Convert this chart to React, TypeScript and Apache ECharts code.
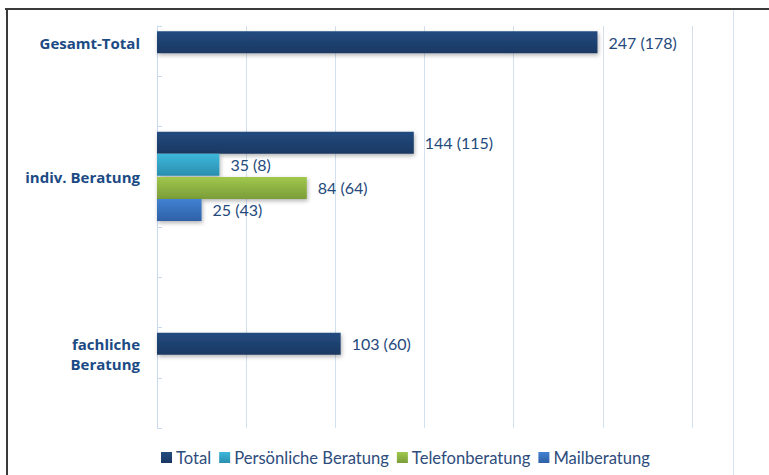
import React, { useEffect, useRef } from "react";
import * as echarts from "echarts";

// ---- data ----
// 8 category bands on the visible axis (top to bottom)
const bandCategories = ["b0", "b1", "b2", "b3", "b4", "b5", "b6", "b7"];
// label axis (12 finer rows) — tick labels
const groupLabels = ["Gesamt-Total", "", "", "", "indiv. Beratung", "", "", "", "", "fachliche\nBeratung", "", ""];

const seriesNames = ["Total", "Persönliche Beratung", "Telefonberatung", "Mailberatung"];
// values per band (null = no bar)
const totalValues = [247, null, 144, null, null, null, 103, null];
const totalPrev = [178, null, 115, null, null, null, 60, null];
const persoenlichValues = [null, null, 35, null, null, null, null, null];
const persoenlichPrev = [null, null, 8, null, null, null, null, null];
const telefonValues = [null, null, null, 84, null, null, null, null];
const telefonPrev = [null, null, null, 64, null, null, null, null];
const mailValues = [null, null, null, 25, null, null, null, null];
const mailPrev = [null, null, null, 43, null, null, null, null];

const xMin = 0;
const xMax = 300;
const xInterval = 50;

const grad = (top: string, bottom: string) =>
  new echarts.graphic.LinearGradient(0, 0, 0, 1, [
    { offset: 0, color: top },
    { offset: 1, color: bottom },
  ]);

export default function App() {
  const ref = useRef<HTMLDivElement>(null);

  useEffect(() => {
    if (!ref.current) return;
    const chart = echarts.init(ref.current, undefined, { renderer: "svg" });
    const font = "Lato";
    const labelColor = "#244A7C";

    const mkLabel = (prev: (number | null)[]) => ({
      show: true,
      position: "right" as const,
      distance: 11,
      color: labelColor,
      fontFamily: font,
      fontSize: 16,
      formatter: (p: any) => (p.value == null ? "" : `${p.value} (${prev[p.dataIndex]})`),
    });

    const barCommon = {
      type: "bar" as const,
      barWidth: 22,
      barGap: "0%",
      itemStyle: {
        shadowBlur: 4,
        shadowOffsetY: 2,
        shadowOffsetX: 1,
        shadowColor: "rgba(0,0,0,0.3)",
      },
    };

    const grid0 = { left: 157, right: 77, top: 26, bottom: 47 };
    const grid1 = { left: 157, right: 77, top: 28, bottom: 45 };
    const grid2 = { left: 157, right: 77, top: 23, bottom: 50 };

    const hiddenX = (gi: number) => ({
      gridIndex: gi,
      type: "value",
      min: xMin,
      max: xMax,
      interval: xInterval,
      show: false,
    });
    const hiddenY = (gi: number) => ({
      gridIndex: gi,
      type: "category",
      inverse: true,
      data: bandCategories,
      show: false,
    });

    chart.setOption({
      animation: false,
      backgroundColor: "#ffffff",
      grid: [grid0, grid1, grid2],
      legend: {
        data: seriesNames,
        left: 156,
        top: 444,
        itemWidth: 11,
        itemHeight: 11,
        itemGap: 8,
        icon: "rect",
        textStyle: { color: "#2E4C7C", fontFamily: font, fontSize: 16.6, padding: [0, 0, 0, -1] },
      },
      xAxis: [
        {
          gridIndex: 0,
          type: "value",
          min: xMin,
          max: xMax,
          interval: xInterval,
          axisLine: { show: false },
          axisTick: { show: false },
          axisLabel: { show: false },
          splitLine: { show: true, lineStyle: { color: "#D3E0F0", width: 1 } },
        },
        hiddenX(1),
        hiddenX(2),
      ],
      yAxis: [
        {
          gridIndex: 0,
          type: "category",
          position: "left",
          inverse: true,
          data: bandCategories,
          axisLine: { show: true, lineStyle: { color: "#C9D9EE", width: 1 } },
          axisTick: { show: true, inside: true, length: 5, lineStyle: { color: "#C9D9EE" } },
          axisLabel: { show: false },
          splitLine: { show: false },
        },
        {
          gridIndex: 0,
          type: "category",
          position: "left",
          inverse: true,
          data: groupLabels,
          axisLine: { show: false },
          axisTick: { show: false },
          axisLabel: {
            show: true,
            interval: 0,
            margin: 17,
            color: "#1B4A84",
            fontFamily: "Open Sans",
            fontWeight: "bold",
            fontSize: 15,
            lineHeight: 20,
            align: "right",
            formatter: (v: string) => (v.includes("\n") ? "\n" + v : v),
          },
        },
        hiddenY(1),
        hiddenY(2),
      ],
      series: [
        {
          ...barCommon,
          name: seriesNames[0],
          xAxisIndex: 1,
          yAxisIndex: 2,
          stack: "A",
          data: totalValues,
          color: "#1F4478",
          itemStyle: { ...barCommon.itemStyle, color: grad("#234C80", "#1A3862") },
          label: mkLabel(totalPrev),
        },
        {
          ...barCommon,
          name: seriesNames[1],
          xAxisIndex: 1,
          yAxisIndex: 2,
          stack: "B",
          data: persoenlichValues,
          color: "#31A3C8",
          itemStyle: { ...barCommon.itemStyle, color: grad("#3DB8DC", "#2A8EAE") },
          label: mkLabel(persoenlichPrev),
        },
        {
          ...barCommon,
          name: seriesNames[2],
          xAxisIndex: 2,
          yAxisIndex: 3,
          stack: "C",
          data: telefonValues,
          color: "#8DB441",
          itemStyle: { ...barCommon.itemStyle, color: grad("#A0C84C", "#7B9D39") },
          label: mkLabel(telefonPrev),
        },
        {
          ...barCommon,
          name: seriesNames[3],
          xAxisIndex: 2,
          yAxisIndex: 3,
          stack: "D",
          data: mailValues,
          color: "#3670BE",
          itemStyle: { ...barCommon.itemStyle, color: grad("#4182D2", "#2E60A6") },
          label: mkLabel(mailPrev),
        },
      ],
      graphic: [
        { type: "line", shape: { x1: 5, y1: 9, x2: 769, y2: 9 }, style: { stroke: "#3A3A3A", lineWidth: 2 }, silent: true },
        { type: "line", shape: { x1: 7, y1: 8, x2: 7, y2: 475 }, style: { stroke: "#3A3A3A", lineWidth: 2 }, silent: true },
        { type: "line", shape: { x1: 733.5, y1: 10, x2: 733.5, y2: 475 }, style: { stroke: "#D6E3F3", lineWidth: 1 }, silent: true },
      ],
    });

    return () => chart.dispose();
  }, []);

  return (
    <div
      ref={ref}
      style={{ position: "fixed", left: 0, top: 0, width: 769, height: 475 }}
    />
  );
}
